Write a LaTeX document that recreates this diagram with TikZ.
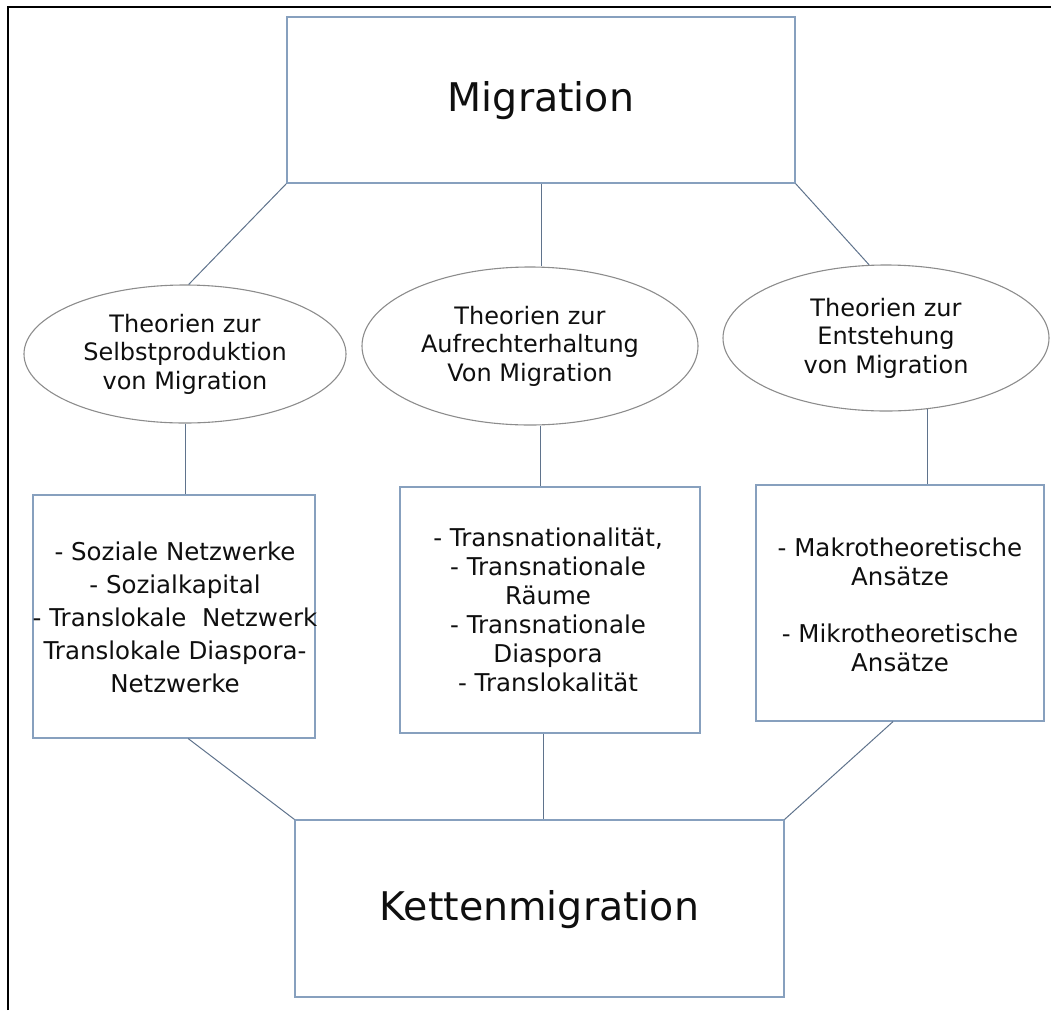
\documentclass[tikz,border=0pt]{standalone}
\usepackage{fontspec}
\setmainfont{DejaVu Sans}
\usetikzlibrary{shapes.geometric,calc}
\definecolor{boxc}{RGB}{135,160,190}
\definecolor{linec}{RGB}{95,115,140}
\definecolor{ellc}{RGB}{140,140,140}
\definecolor{txtc}{RGB}{15,15,15}
\begin{document}
\begin{tikzpicture}[x=1pt,y=-1pt,
  box/.style={draw=boxc,line width=1.1pt,rectangle,inner sep=0pt},
  ell/.style={draw=ellc,line width=1.1pt,ellipse,inner sep=0pt,align=center,text=txtc,font=\fontsize{24}{28.5}\selectfont},
  txt/.style={align=center,inner sep=0pt,text=txtc,font=\fontsize{24.5}{29}\selectfont},
  big/.style={text=txtc,font=\fontsize{39.5}{46}\selectfont},
  conn/.style={draw=linec,line width=1pt}]
\useasboundingbox (0,0) rectangle (1051,1010);
% outer frame (top and left visible)
\draw[black,line width=2pt] (8,1010) -- (8,7) -- (1051,7);

% main boxes
\node[box,minimum width=508pt,minimum height=166pt] (m) at (541,100) {};
\node[big] (mt) at (541,101) {Migration};
\node[box,minimum width=489pt,minimum height=177pt] (k) at (539.5,908.5) {};
\node[big] (kt) at (539.5,910) {Kettenmigration};

% ellipses
\node[ell,minimum width=322pt,minimum height=138pt] (e1) at (185,354) {Theorien zur\\Selbstproduktion\\von Migration};
\node[ell,minimum width=336pt,minimum height=158pt] (e2) at (530,346) {Theorien zur\\Aufrechterhaltung\\Von Migration};
\node[ell,minimum width=326pt,minimum height=146pt] (e3) at (886,338) {Theorien zur\\Entstehung\\von Migration};

% content boxes
\node[box,minimum width=282pt,minimum height=243pt] (b1) at (174,616.5) {};
\node[txt,font=\fontsize{24.5}{33}\selectfont] (t1) at (175,617) {- Soziale Netzwerke\\- Sozialkapital\\- Translokale\ \ Netzwerk\\Translokale Diaspora-\\Netzwerke};
\node[box,minimum width=300pt,minimum height=246pt] (b2) at (550,610) {};
\node[txt] (t2) at (548,610) {- Transnationalität,\\- Transnationale\\Räume\\- Transnationale\\Diaspora\\- Translokalität};
\node[box,minimum width=288pt,minimum height=236pt] (b3) at (900,603) {};
\node[txt] (t3) at (900,605) {- Makrotheoretische\\Ansätze\\[28pt]- Mikrotheoretische\\Ansätze};

% connectors
\draw[conn] (m.south west) -- (e1.87);
\draw[conn] (m.south) -- (m.south |- e2.north);
\draw[conn] (m.south east) -- (e3.103);

\draw[conn] (e1.south) -- (e1.south |- b1.north);
\coordinate (c2) at ($(b2.north west)!0.47!(b2.north east)$);
\draw[conn] (c2 |- e2.south) -- (c2);
\draw[conn] (e3.300) -- (e3.300 |- b3.north);

\draw[conn] ($(b1.south west)!0.55!(b1.south east)$) -- (k.north west);
\coordinate (c5) at ($(b2.south west)!0.48!(b2.south east)$);
\draw[conn] (c5) -- (c5 |- k.north);
\draw[conn] ($(b3.south west)!0.476!(b3.south east)$) -- (k.north east);
\end{tikzpicture}
\end{document}
